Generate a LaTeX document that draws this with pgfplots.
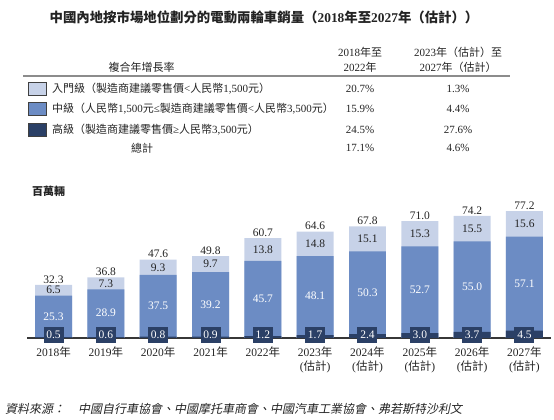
\documentclass[border=0pt]{standalone}
\usepackage{fontspec}
\setmainfont{Liberation Serif}
\newfontfamily\latinfont{Liberation Serif}
\newfontfamily\cjk{Noto Sans CJK TC}
\newfontfamily\cjkit{Noto Sans CJK TC}[FakeSlant=0.2]
\usepackage{pgfplots}
\usepackage{pgfplotstable}
\pgfplotsset{compat=1.18}

% switch to the CJK font for CJK characters automatically
\XeTeXinterchartokenstate=1
\newXeTeXintercharclass\cjkclass
\makeatletter
\def\setcjkrange#1#2{\count@=#1\relax
  \loop\XeTeXcharclass\count@=\cjkclass\relax
  \ifnum\count@<#2\advance\count@ by 1\repeat}
\setcjkrange{"3000}{"303F}
\setcjkrange{"4E00}{"9FFF}
\setcjkrange{"FF00}{"FFEF}
\makeatother
\def\cjkswitch{\cjk}
\XeTeXinterchartoks 0 \cjkclass = {\cjkswitch}
\XeTeXinterchartoks 4095 \cjkclass = {\cjkswitch}
\XeTeXinterchartoks \cjkclass 0 = {\latinfont}
\XeTeXinterchartoks \cjkclass 4095 = {\latinfont}

\definecolor{lightc}{RGB}{199,210,232}
\definecolor{midc}{RGB}{108,140,196}
\definecolor{darkc}{RGB}{43,64,102}
\definecolor{axisc}{RGB}{55,55,55}
\definecolor{txt}{RGB}{35,35,35}

\pgfplotstableread{
x dark mid light total
0 0.5 25.3 6.5 32.3
1 0.6 28.9 7.3 36.8
2 0.8 37.5 9.3 47.6
3 0.9 39.2 9.7 49.8
4 1.2 45.7 13.8 60.7
5 1.7 48.1 14.8 64.6
6 2.4 50.3 15.1 67.8
7 3.0 52.7 15.3 71.0
8 3.7 55.0 15.5 74.2
9 4.5 57.1 15.6 77.2
}\sales

\newcommand\tfont{\fontsize{11}{13}\selectfont}
\newcommand\vfont{\fontsize{11.5}{13.3}\selectfont}

\begin{document}
\begin{tikzpicture}
\useasboundingbox (0,0) rectangle (554pt,420pt);

% title
\node[font=\fontsize{13.4}{15}\selectfont\bfseries, text=txt] at (264pt,402.5pt)
  {中國內地按市場地位劃分的電動兩輪車銷量（2018年至2027年（估計））};

% CAGR table
\begin{scope}[every node/.style={font=\tfont, text=txt, inner sep=0pt}]
\node at (141.7pt,352.3pt) {複合年增長率};
\node at (360pt,367.3pt) {2018年至};
\node at (360pt,352.3pt) {2022年};
\node at (458pt,367.3pt) {2023年（估計）至};
\node at (458pt,352.3pt) {2027年（估計）};
\draw[draw=black!45, line width=1.3pt] (23pt,344pt) -- (510pt,344pt);

\filldraw[fill=lightc, draw=black!75, line width=0.6pt] (28.3pt,324.5pt) rectangle (46.7pt,337.5pt);
\filldraw[fill=midc, draw=black!75, line width=0.6pt] (28.3pt,304.5pt) rectangle (46.7pt,317.5pt);
\filldraw[fill=darkc, draw=black!75, line width=0.6pt] (28.3pt,283.5pt) rectangle (46.7pt,296.5pt);

\node[anchor=west] at (52pt,331pt) {入門級（製造商建議零售價<人民幣1,500元）};
\node[anchor=west] at (52pt,311pt) {中級（人民幣1,500元≤製造商建議零售價<人民幣3,500元）};
\node[anchor=west] at (52pt,290pt) {高級（製造商建議零售價≥人民幣3,500元）};
\node at (142pt,272pt) {總計};

\node at (360pt,331pt) {20.7\%};
\node at (360pt,311pt) {15.9\%};
\node at (360pt,290pt) {24.5\%};
\node at (360pt,272pt) {17.1\%};
\node at (458pt,331pt) {1.3\%};
\node at (458pt,311pt) {4.4\%};
\node at (458pt,290pt) {27.6\%};
\node at (458pt,272pt) {4.6\%};
\end{scope}

% unit
\node[anchor=west, inner sep=0pt, font=\fontsize{11}{13}\selectfont\bfseries, text=txt]
  at (32pt,228.3pt) {百萬輛};

\begin{axis}[
  at={(27.35pt,82pt)}, anchor=south west,
  scale only axis, width=523.3pt, height=131.6pt,
  xmin=-0.5, xmax=9.5, ymin=0, ymax=80,
  clip=false,
  axis y line=none, axis x line*=bottom,
  x axis line style={-, draw=axisc, line width=2pt},
  xtick={0,1,...,9},
  xticklabels={2018年, 2019年, 2020年, 2021年, 2022年,
    {2023年\\(估計)}, {2024年\\(估計)}, {2025年\\(估計)},
    {2026年\\(估計)}, {2027年\\(估計)}},
  xtick style={draw=none},
  xticklabel style={align=center, anchor=north, yshift=-5.5pt,
    font=\vfont, text=txt},
]
\addplot[ybar, bar width=0.707, bar shift=0pt, fill=lightc, draw=none]
  table[x=x, y=total] {\sales};
\addplot[ybar, bar width=0.707, bar shift=0pt, fill=midc, draw=none]
  table[x=x, y expr=\thisrow{dark}+\thisrow{mid}] {\sales};
\addplot[ybar, bar width=0.707, bar shift=0pt, fill=darkc, draw=none]
  table[x=x, y=dark] {\sales};

% value labels
\addplot[draw=none, nodes near coords, point meta=explicit symbolic,
  every node near coord/.append style={anchor=south, inner sep=1.5pt,
    font=\vfont, text=txt}]
  table[x=x, y=total, meta=total] {\sales};
\addplot[draw=none, nodes near coords, point meta=explicit symbolic,
  every node near coord/.append style={anchor=center, inner sep=0pt,
    font=\vfont, text=txt}]
  table[x=x, y expr=\thisrow{dark}+\thisrow{mid}+0.5*\thisrow{light}, meta=light] {\sales};
\addplot[draw=none, nodes near coords, point meta=explicit symbolic,
  every node near coord/.append style={anchor=center, inner sep=0pt,
    font=\vfont, text=white}]
  table[x=x, y expr=\thisrow{dark}+0.5*\thisrow{mid}, meta=mid] {\sales};
\addplot[draw=none, nodes near coords, point meta=explicit symbolic,
  every node near coord/.append style={anchor=center, inner sep=1pt,
    fill=darkc, minimum width=20pt, minimum height=15.5pt,
    font=\vfont, text=white}]
  table[x=x, y expr=1.8, meta=dark] {\sales};
\end{axis}

% source
\node[anchor=west, inner sep=0pt, font=\fontsize{12}{14}\selectfont\itshape, text=txt]
  at (5pt,11pt) {\def\cjkswitch{\cjkit}資料來源：};
\node[anchor=west, inner sep=0pt, font=\fontsize{12}{14}\selectfont\itshape, text=txt]
  at (78pt,11pt) {\def\cjkswitch{\cjkit}中國自行車協會、中國摩托車商會、中國汽車工業協會、弗若斯特沙利文};
\end{tikzpicture}
\end{document}
